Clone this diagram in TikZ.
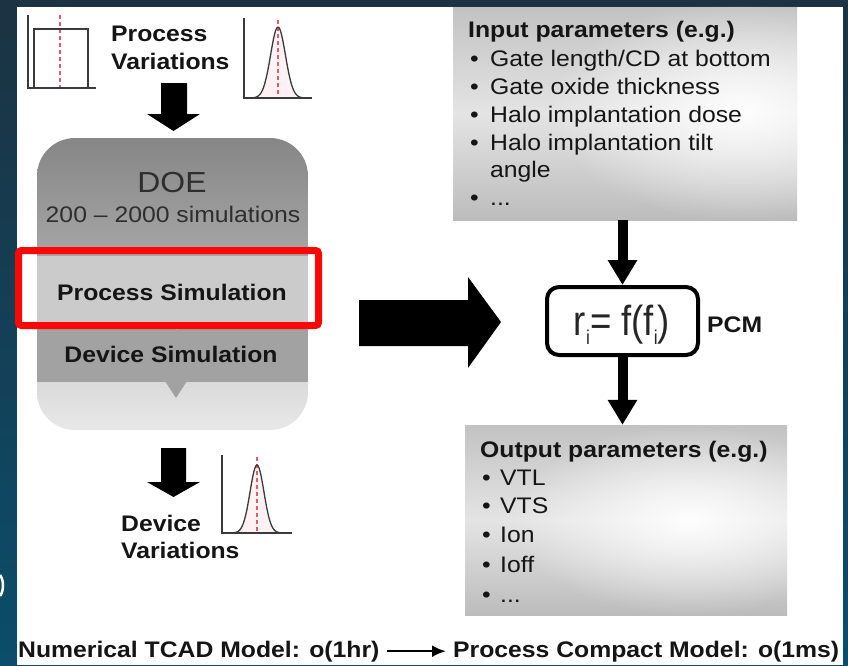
\documentclass[tikz,border=0pt]{standalone}
\usepackage{fontspec}
\setmainfont{Liberation Sans}[FakeStretch=1.1]
\newfontfamily\condfont{Liberation Sans}[FakeStretch=0.87]
\usetikzlibrary{arrows.meta,fadings}
\tikzfading[name=softglow, inner color=transparent!0, outer color=transparent!100]
\definecolor{bgtop}{HTML}{1B3342}
\definecolor{bgbot}{HTML}{0B4D6B}
\definecolor{hl}{RGB}{250,8,8}
\definecolor{doetop}{HTML}{868686}
\definecolor{doemid}{HTML}{A6A6A6}
\definecolor{procband}{HTML}{CBCBCB}
\definecolor{devband}{HTML}{A2A2A2}
\definecolor{doelowtop}{HTML}{DADADA}
\definecolor{doelowbot}{HTML}{E8E8E8}
\definecolor{plotline}{HTML}{3A3A3A}
\definecolor{meanred}{HTML}{E05A6A}
\definecolor{txtdark}{HTML}{151515}
\definecolor{boxtop}{HTML}{C2C2C2}
\definecolor{boxmid}{HTML}{E4E4E4}
\definecolor{boxbot}{HTML}{BCBCBC}
\tikzset{
  txt/.style={inner sep=0pt, text=txtdark, font=\fontsize{22.5}{27}\selectfont},
  btxt/.style={inner sep=0pt, text=txtdark, font=\fontsize{22.5}{27}\selectfont\bfseries},
  doetxt/.style={inner sep=0pt, text=black!82},
  axisline/.style={draw=plotline, line width=1.3pt},
  meanline/.style={draw=meanred, line width=1.2pt, dash pattern=on 4pt off 3pt},
  blockarrow/.style={fill=black},
  thinarrow/.style={draw=black, line width=10pt, -{Triangle[width=28pt,length=25pt]}},
  parambox/.style={inner sep=0pt, draw=none, top color=boxtop, bottom color=boxbot, middle color=boxmid},
  glow/.style={fill=white, path fading=softglow, fill opacity=0.95},
}
\newcommand{\smallsub}[1]{\raisebox{-0.22em}{\fontsize{20}{20}\selectfont #1}}
\begin{document}
\begin{tikzpicture}[x=1pt,y=-1pt]
\useasboundingbox (0,0) rectangle (848,665);
% background and white panel
\shade[top color=bgtop, bottom color=bgbot] (0,0) rectangle (848,665);
\fill[white] (17,7) rectangle (843,665);
\draw[white, line width=2.5pt] (0,575) .. controls (4,580) and (4,591) .. (0,596);

% ---- uniform distribution (top left)
\draw[meanline] (60,15) -- (60,88);
\draw[axisline] (28,15) -- (28,88) -- (96,88);
\draw[axisline] (34,88) -- (34,29) -- (88,29) -- (88,88);

% ---- Process Variations
\node[btxt, anchor=base west] (pv1) at (111,41) {Process};
\node[btxt, anchor=base west] (pv2) at (111,69) {Variations};

% ---- gaussian (top right)
\fill[meanred!8] plot[domain=247:309, samples=60] (\x, {98-71*exp(-((\x-278)/10.5)^2)}) -- cycle;
\draw[meanline] (278,20) -- (278,98);
\draw[plotline, line width=1.3pt] plot[domain=247:309, samples=60] (\x, {98-71*exp(-((\x-278)/10.5)^2)});
\draw[axisline] (244,18) -- (244,98) -- (312,98);

% ---- down arrow 1
\fill[blockarrow] (161,83) -- (187,83) -- (187,114) -- (200,114) -- (173.5,131) -- (147,114) -- (161,114) -- cycle;

% ---- DOE box
\begin{scope}
\clip[rounded corners=38pt] (37,138) rectangle (308,430);
\shade[top color=doetop, bottom color=doemid] (37,138) rectangle (308,256);
\fill[procband] (37,256) rectangle (308,322);
\fill[devband] (37,322) rectangle (308,382);
\shade[top color=doelowtop, bottom color=doelowbot] (37,382) rectangle (308,430);
\fill[devband] (165,381) -- (187,381) -- (176,398) -- cycle;
\fill[procband] (171,321) -- (183,321) -- (177,330) -- cycle;
\end{scope}
\node[doetxt, anchor=base, font=\fontsize{29}{30}\selectfont] (doe) at (172,192) {DOE};
\node[doetxt, anchor=base, font=\fontsize{22.5}{27}\selectfont] (nsim) at (173,222) {200 -- 2000 simulations};
\node[btxt, anchor=base] (psim) at (172,300) {Process Simulation};
\node[btxt, anchor=base] (dsim) at (171,362) {Device Simulation};

% ---- highlight frame
\draw[hl, line width=7pt, rounded corners=3pt] (18.5,250.5) rectangle (318.5,325.5);

% ---- down arrow 2
\fill[blockarrow] (161,448) -- (186,448) -- (186,482) -- (200,482) -- (173.5,497) -- (147,482) -- (161,482) -- cycle;

% ---- gaussian (bottom)
\fill[meanred!8] plot[domain=227:288, samples=60] (\x, {533-68*exp(-((\x-257)/9.8)^2)}) -- cycle;
\draw[meanline] (257,457) -- (257,533);
\draw[plotline, line width=1.3pt] plot[domain=227:288, samples=60] (\x, {533-68*exp(-((\x-257)/9.8)^2)});
\draw[axisline] (222,455) -- (222,533) -- (292,533);

% ---- Device Variations
\node[btxt, anchor=base west] (dv1) at (121,531) {Device};
\node[btxt, anchor=base west] (dv2) at (121,558) {Variations};

% ---- big right arrow
\fill[blockarrow] (359,300) -- (468,300) -- (468,277) -- (501,322) -- (468,368) -- (468,346) -- (359,346) -- cycle;

% ---- input parameter box
\node[parambox, minimum width=344pt, minimum height=213pt] (inbox) at (625,113.5) {};
\begin{scope}
\clip (inbox.south west) rectangle (inbox.north east);
\fill[glow] (740,110) ellipse [x radius=190pt, y radius=110pt];
\end{scope}
\node[btxt, anchor=base west] (in0) at (468,37) {Input parameters (e.g.)};
\node[txt, anchor=base west] (in1) at (470,66) {\makebox[20pt][l]{•}Gate length/CD at bottom};
\node[txt, anchor=base west] (in2) at (470,94) {\makebox[20pt][l]{•}Gate oxide thickness};
\node[txt, anchor=base west] (in3) at (470,122) {\makebox[20pt][l]{•}Halo implantation dose};
\node[txt, anchor=base west] (in4) at (470,150) {\makebox[20pt][l]{•}Halo implantation tilt};
\node[txt, anchor=base west] (in5) at (490,177) {angle};
\node[txt, anchor=base west] (in6) at (470,205) {\makebox[20pt][l]{•}...};

% ---- PCM box
\node[draw=black, line width=4pt, rounded corners=12pt, minimum width=151pt, minimum height=68pt, inner sep=0pt] (pcm) at (622.5,321) {};
\node[inner sep=0pt, anchor=base, text=black!85, font=\condfont\fontsize{42}{44}\selectfont] (eq) at (622,335) {r\smallsub{i}= f(f\smallsub{i})};
\node[btxt, anchor=base west] (pcmlbl) at (707,332) {PCM};

% ---- output parameter box
\node[parambox, minimum width=322pt, minimum height=190pt] (outbox) at (626,520) {};
\begin{scope}
\clip (outbox.south west) rectangle (outbox.north east);
\fill[glow] (690,520) ellipse [x radius=180pt, y radius=95pt];
\end{scope}
\node[btxt, anchor=base west] (out0) at (480,457) {Output parameters (e.g.)};
\node[txt, anchor=base west] (out1) at (482,485) {\makebox[18pt][l]{•}VTL};
\node[txt, anchor=base west] (out2) at (482,513) {\makebox[18pt][l]{•}VTS};
\node[txt, anchor=base west] (out3) at (482,542) {\makebox[18pt][l]{•}Ion};
\node[txt, anchor=base west] (out4) at (482,572) {\makebox[18pt][l]{•}Ioff};
\node[txt, anchor=base west] (out5) at (482,602) {\makebox[18pt][l]{•}...};

% ---- thin arrows
\draw[thinarrow] (pcm.north |- inbox.south) -- (pcm.north);
\draw[thinarrow] (pcm.south) -- (pcm.south |- outbox.north);

% ---- bottom line
\node[btxt, anchor=base west] (tcad) at (18,657) {Numerical TCAD Model: o(1hr)};
\node[btxt, anchor=base west] (pcmodel) at (453,657) {Process Compact Model: o(1ms)};
\draw[black, line width=2.5pt, -{Latex[length=14pt,width=12pt]}, shorten <=7pt, shorten >=7pt] (tcad.east) -- (pcmodel.west);
\end{tikzpicture}
\end{document}
